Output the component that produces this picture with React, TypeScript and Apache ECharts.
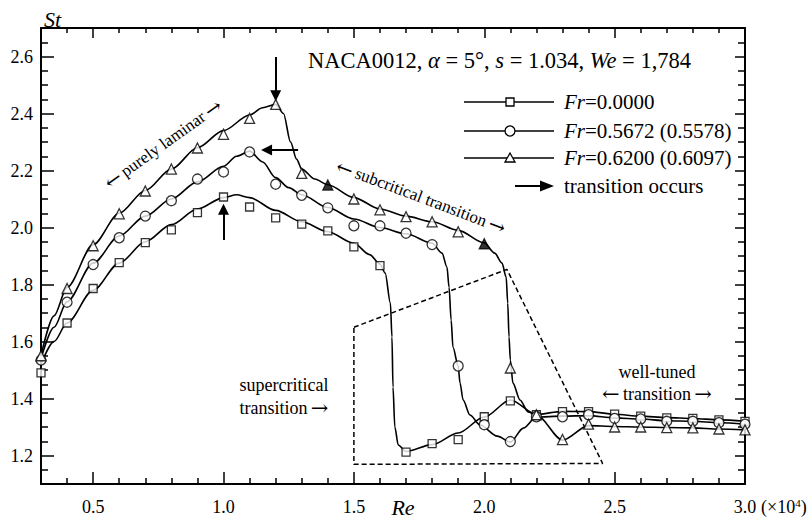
import React, { useEffect, useRef } from 'react';
import * as echarts from 'echarts';

// Reynolds number (x10^4) at which St was sampled
const reValues = [0.3, 0.4, 0.5, 0.6, 0.7, 0.8, 0.9, 1.0, 1.1, 1.2, 1.3, 1.4, 1.5, 1.6, 1.7, 1.8, 1.9, 2.0, 2.1, 2.2, 2.3, 2.4, 2.5, 2.6, 2.7, 2.8, 2.9, 3.0];
// Strouhal number, Fr = 0.0000 (squares)
const stFr0000 = [1.49, 1.665, 1.786, 1.877, 1.947, 1.992, 2.052, 2.107, 2.072, 2.034, 2.012, 1.988, 1.932, 1.866, 1.212, 1.242, 1.256, 1.336, 1.392, 1.343, 1.354, 1.354, 1.345, 1.338, 1.332, 1.33, 1.325, 1.32];
// Fr = 0.5672 (circles)
const stFr5672 = [1.535, 1.738, 1.87, 1.964, 2.04, 2.094, 2.17, 2.195, 2.265, 2.152, 2.113, 2.069, 2.006, 2.006, 1.98, 1.94, 1.514, 1.308, 1.249, 1.336, 1.336, 1.343, 1.33, 1.328, 1.32, 1.32, 1.315, 1.31];
// Fr = 0.6200 (triangles)
const stFr6200 = [1.55, 1.786, 1.936, 2.048, 2.128, 2.205, 2.279, 2.327, 2.383, 2.432, 2.19, 2.149, 2.1, 2.062, 2.038, 2.02, 1.985, 1.943, 1.507, 1.343, 1.256, 1.31, 1.3, 1.3, 1.298, 1.297, 1.293, 1.29];
// filled triangle points
const filledTriangleRe = [1.4, 2.0];

// fitted curves
const fitFr0000 = [[0.3, 1.52], [0.35, 1.6], [0.4, 1.665], [0.5, 1.78], [0.6, 1.875], [0.7, 1.95], [0.8, 2.01], [0.9, 2.065], [1.0, 2.105], [1.05, 2.115], [1.1, 2.105], [1.2, 2.06], [1.3, 2.02], [1.4, 1.985], [1.5, 1.945], [1.56, 1.905], [1.6, 1.872], [1.62, 1.84], [1.64, 1.735], [1.646, 1.616], [1.65, 1.44], [1.657, 1.3], [1.67, 1.237], [1.7, 1.214], [1.8, 1.238], [1.9, 1.279], [2.0, 1.335], [2.1, 1.395], [2.2, 1.344], [2.3, 1.355], [2.4, 1.354], [2.5, 1.345], [2.6, 1.338], [2.7, 1.333], [2.8, 1.33], [2.9, 1.325], [3.0, 1.32]];
const fitFr5672 = [[0.3, 1.54], [0.35, 1.65], [0.4, 1.74], [0.5, 1.875], [0.6, 1.97], [0.7, 2.04], [0.8, 2.1], [0.9, 2.16], [1.0, 2.215], [1.05, 2.25], [1.1, 2.268], [1.15, 2.23], [1.2, 2.175], [1.25, 2.14], [1.3, 2.115], [1.4, 2.07], [1.5, 2.03], [1.6, 2.0], [1.7, 1.978], [1.8, 1.945], [1.838, 1.91], [1.857, 1.861], [1.865, 1.79], [1.873, 1.675], [1.88, 1.58], [1.9, 1.514], [1.907, 1.454], [1.919, 1.395], [1.945, 1.342], [1.984, 1.307], [2.05, 1.268], [2.1, 1.247], [2.15, 1.296], [2.2, 1.335], [2.3, 1.338], [2.4, 1.34], [2.5, 1.332], [2.6, 1.328], [2.7, 1.322], [2.8, 1.32], [2.9, 1.315], [3.0, 1.31]];
const fitFr6200 = [[0.3, 1.55], [0.35, 1.69], [0.4, 1.79], [0.5, 1.94], [0.6, 2.05], [0.7, 2.13], [0.8, 2.205], [0.9, 2.28], [1.0, 2.34], [1.1, 2.395], [1.15, 2.42], [1.2, 2.432], [1.23, 2.4], [1.257, 2.3], [1.28, 2.24], [1.3, 2.205], [1.35, 2.17], [1.4, 2.15], [1.5, 2.105], [1.6, 2.065], [1.7, 2.04], [1.8, 2.02], [1.9, 1.99], [2.0, 1.946], [2.04, 1.91], [2.068, 1.875], [2.084, 1.826], [2.09, 1.735], [2.095, 1.616], [2.1, 1.535], [2.11, 1.454], [2.137, 1.395], [2.168, 1.353], [2.2, 1.342], [2.3, 1.254], [2.4, 1.305], [2.5, 1.302], [2.6, 1.3], [2.7, 1.298], [2.8, 1.297], [2.9, 1.293], [3.0, 1.29]];

// dashed "supercritical" region
const transitionBox = [[1.5, 1.65], [2.087, 1.853], [2.454, 1.172], [1.5, 1.169], [1.5, 1.65]];
// transition arrows [from, to]
const transitionArrows = [
  [[1.2, 2.598], [1.2, 2.462]],
  [[1.286, 2.272], [1.165, 2.272]],
  [[1.0, 1.956], [1.0, 2.064]],
];

// axis ticks / labels
const xLabelValues = [0.5, 1.0, 1.5, 2.0, 2.5, 3.0];
const xMinorTicks = [0.3, 0.4, 0.6, 0.7, 0.8, 0.9, 1.1, 1.2, 1.3, 1.4, 1.6, 1.7, 1.8, 1.9, 2.1, 2.2, 2.3, 2.4, 2.6, 2.7, 2.8, 2.9];
const yLabelValues = [1.2, 1.4, 1.6, 1.8, 2.0, 2.2, 2.4, 2.6];
const yMinorTicks = [1.15, 1.25, 1.3, 1.35, 1.45, 1.5, 1.55, 1.65, 1.7, 1.75, 1.85, 1.9, 1.95, 2.05, 2.1, 2.15, 2.25, 2.3, 2.35, 2.45, 2.5, 2.55, 2.65];

const legendNames = ['=0.0000', '=0.5672 (0.5578)', '=0.6200 (0.6097)'];

const SERIF = 'Liberation Serif';
const ARROWF = 'DejaVu Serif';

export default function App() {
  const ref = useRef<HTMLDivElement>(null);
  useEffect(() => {
    if (!ref.current) return;
    const chart = echarts.init(ref.current, undefined, { renderer: 'svg' });
    const black = '#000';
    const baseX = {
      type: 'value', min: 0.3, max: 3.0,
      splitLine: { show: false },
    };
    const baseY = {
      type: 'value', min: 1.1, max: 2.7,
      splitLine: { show: false },
    };
    const line = (show: boolean) => ({ show, onZero: false, lineStyle: { color: black, width: 2 } });
    const tick = (len: number, vals: number[]) => ({ show: true, inside: true, length: len, customValues: vals, lineStyle: { color: black, width: 1.5 } });
    const noLabel = { show: false };
    const fmt = (v: number) => v.toFixed(1);

    const pts = (ys: number[], filled: number[] = []) =>
      reValues.map((x, i) => {
        const isFilled = filled.some((f) => Math.abs(f - x) < 1e-9);
        return isFilled ? { value: [x, ys[i]], itemStyle: { color: black } } : [x, ys[i]];
      });

    const curve = (data: number[][]) => ({
      type: 'line', data, symbol: 'none', showSymbol: false, smooth: 0.3, smoothMonotone: 'x',
      lineStyle: { color: black, width: 1.6 }, z: 2, silent: true,
    });
    const marks = (data: any[], symbol: string, size: number) => ({
      type: 'scatter', data, symbol, symbolSize: size, z: 5, silent: true,
      itemStyle: { color: '#fff', borderColor: black, borderWidth: 1.3 },
    });

    const arrowText = (label: string, left: boolean, right: boolean, size: number) => ({
      text: (left ? '{a|←} ' : '') + '{t|' + label + '}' + (right ? ' {a|→}' : ''),
      align: 'center', verticalAlign: 'middle',
      rich: {
        a: { fontFamily: ARROWF, fontSize: size + 3, fill: black },
        t: { fontFamily: SERIF, fontSize: size, fill: black },
      },
    });

    const legendRows = [102, 131, 158];
    const lx0 = 464, lx1 = 554, lm = 510;
    const legendGraphics: any[] = [];
    legendRows.forEach((y, i) => {
      legendGraphics.push({ type: 'line', shape: { x1: lx0, y1: y, x2: lx1, y2: y }, style: { stroke: black, lineWidth: 1.6 } });
      if (i === 0) legendGraphics.push({ type: 'rect', shape: { x: lm - 4, y: y - 4, width: 8, height: 8 }, style: { fill: '#fff', stroke: black, lineWidth: 1.3 } });
      if (i === 1) legendGraphics.push({ type: 'circle', shape: { cx: lm, cy: y, r: 5 }, style: { fill: '#fff', stroke: black, lineWidth: 1.3 } });
      if (i === 2) legendGraphics.push({ type: 'polygon', shape: { points: [[lm, y - 5], [lm + 5, y + 4], [lm - 5, y + 4]] }, style: { fill: '#fff', stroke: black, lineWidth: 1.3 } });
      legendGraphics.push({
        type: 'text', x: 564, y,
        style: {
          text: '{i|Fr}{r|' + legendNames[i] + '}', verticalAlign: 'middle', align: 'left',
          rich: {
            i: { fontFamily: SERIF, fontStyle: 'italic', fontSize: 21, fill: black },
            r: { fontFamily: SERIF, fontSize: 21, fill: black },
          },
        },
      });
    });
    legendGraphics.push({ type: 'line', shape: { x1: 515, y1: 186, x2: 543, y2: 186 }, style: { stroke: black, lineWidth: 2 } });
    legendGraphics.push({ type: 'polygon', shape: { points: [[540, 180.5], [554, 186], [540, 191.5]] }, style: { fill: black } });
    legendGraphics.push({ type: 'text', x: 564, y: 186, style: { text: 'transition occurs', font: `21px "${SERIF}"`, fill: black, verticalAlign: 'middle', align: 'left' } });

    const tickLabel = { fontFamily: SERIF, fontSize: 18, color: black };

    chart.setOption({
      animation: false,
      textStyle: { fontFamily: SERIF },
      grid: { left: 41, right: 66, top: 28, bottom: 41 },
      xAxis: [
        { ...baseX, position: 'bottom', axisLine: line(true), axisTick: tick(12, xLabelValues),
          axisLabel: { ...tickLabel, customValues: xLabelValues, formatter: fmt, margin: 14 } },
        { ...baseX, position: 'bottom', axisLine: line(false), axisTick: tick(6, xMinorTicks), axisLabel: noLabel },
        { ...baseX, position: 'top', axisLine: line(true), axisTick: tick(10, xLabelValues), axisLabel: noLabel },
        { ...baseX, position: 'top', axisLine: line(false), axisTick: tick(5, xMinorTicks), axisLabel: noLabel },
      ],
      yAxis: [
        { ...baseY, position: 'left', axisLine: line(true), axisTick: tick(13, yLabelValues),
          axisLabel: { ...tickLabel, customValues: yLabelValues, formatter: fmt, margin: 8 } },
        { ...baseY, position: 'left', axisLine: line(false), axisTick: tick(7, yMinorTicks), axisLabel: noLabel },
        { ...baseY, position: 'right', axisLine: line(true), axisTick: tick(10, yLabelValues), axisLabel: noLabel },
        { ...baseY, position: 'right', axisLine: line(false), axisTick: tick(7, yMinorTicks), axisLabel: noLabel },
      ],
      series: [
        curve(fitFr0000),
        curve(fitFr5672),
        curve(fitFr6200),
        {
          type: 'line', data: transitionBox, symbol: 'none', showSymbol: false, silent: true, z: 1,
          lineStyle: { color: black, width: 1.5, type: [5, 3] },
          markLine: {
            silent: true, symbol: ['none', 'triangle'], symbolSize: 11,
            label: { show: false },
            lineStyle: { color: black, width: 2, type: 'solid' },
            data: transitionArrows.map(([a, b]) => [{ coord: a }, { coord: b }]),
          },
        },
        marks(pts(stFr0000), 'rect', 8),
        marks(pts(stFr5672), 'circle', 10),
        marks(pts(stFr6200, filledTriangleRe), 'triangle', 10),
      ],
      graphic: [
        { type: 'text', x: 44, y: 19, style: { text: 'St', font: `italic 22px "${SERIF}"`, fill: black, verticalAlign: 'middle' } },
        { type: 'text', x: 403, y: 507, style: { text: 'Re', font: `italic 22px "${SERIF}"`, fill: black, verticalAlign: 'middle', align: 'center' } },
        {
          type: 'text', x: 761, y: 507,
          style: {
            text: '{r|(×10}{s|4}{r|)}', verticalAlign: 'middle', align: 'left',
            rich: {
              r: { fontFamily: SERIF, fontSize: 18, fill: black },
              s: { fontFamily: SERIF, fontSize: 11, fill: black, verticalAlign: 'top', padding: [0, 0, 8, 0] },
            },
          },
        },
        {
          type: 'text', x: 308, y: 60,
          style: {
            text: '{r|NACA0012, }{i|α}{r| = 5°, }{i|s}{r| = 1.034, }{i|We}{r| = 1,784}',
            verticalAlign: 'middle', align: 'left',
            rich: {
              r: { fontFamily: SERIF, fontSize: 22.5, fill: black },
              i: { fontFamily: SERIF, fontStyle: 'italic', fontSize: 22.5, fill: black },
            },
          },
        },
        { type: 'text', x: 163, y: 144, rotation: 0.62, style: arrowText('purely laminar', true, true, 17) },
        { type: 'text', x: 421, y: 197, rotation: -0.36, style: arrowText('subcritical transition', true, true, 17) },
        { type: 'text', x: 284, y: 385, style: { text: 'supercritical', font: `18px "${SERIF}"`, fill: black, align: 'center', verticalAlign: 'middle' } },
        { type: 'text', x: 284, y: 408, style: arrowText('transition', false, true, 18) },
        { type: 'text', x: 657, y: 372, style: { text: 'well-tuned', font: `18px "${SERIF}"`, fill: black, align: 'center', verticalAlign: 'middle' } },
        { type: 'text', x: 657, y: 394, style: arrowText('transition', true, true, 18) },
        ...legendGraphics,
      ],
    });
    return () => chart.dispose();
  }, []);
  return <div ref={ref} style={{ position: 'fixed', left: 0, top: 0, width: 811, height: 525, background: '#fff' }} />;
}
